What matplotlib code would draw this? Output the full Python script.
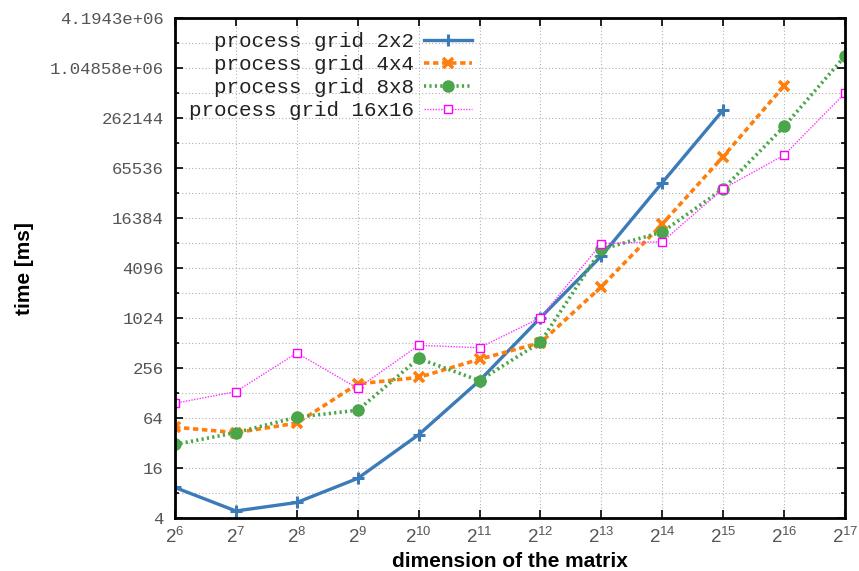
import numpy as np
import matplotlib.pyplot as plt
from matplotlib.ticker import FixedLocator, FuncFormatter, NullFormatter

plt.rcParams['mathtext.fontset'] = 'custom'
plt.rcParams['mathtext.rm'] = 'Liberation Sans'
plt.rcParams['mathtext.it'] = 'Liberation Sans'

# matrix dimension exponents (n = 2^k)
exps_2x2 = [6, 7, 8, 9, 10, 11, 12, 13, 14, 15]
exps_4x4 = [6, 7, 8, 9, 10, 11, 12, 13, 14, 15, 16]
exps_8x8 = [6, 7, 8, 9, 10, 11, 12, 13, 14, 15, 16, 17]
exps_16x16 = [6, 7, 8, 9, 10, 11, 12, 13, 14, 15, 16, 17]

# runtimes in ms
time_2x2 = [9.4, 4.9, 6.2, 12.1, 40.6, 182, 1040, 5760, 44000, 330000]
time_4x4 = [50, 43, 56, 166, 199, 329, 520, 2460, 14000, 90700, 645000]
time_8x8 = [31, 43, 66, 80, 336, 182, 530, 6930, 11200, 37100, 209000, 1470000]
time_16x16 = [97, 134, 391, 147, 484, 453, 1040, 8130, 8540, 37100, 94400, 527000]

fig = plt.figure(figsize=(8.59, 5.71), dpi=100)
ax = fig.add_axes([0.2037, 0.0923, 0.78, 0.8757])

mono = 'Liberation Mono'

ax.plot(2.0 ** np.array(exps_2x2), time_2x2, color='#3b7bb8', lw=2.4,
        marker='+', ms=9, mew=2.2, label='  process grid 2x2')
ax.plot(2.0 ** np.array(exps_4x4), time_4x4, color='#ff7f0e', lw=2.6,
        ls=(0, (1.5, 1)), marker='x', ms=7, mew=2.6, label='  process grid 4x4')
ax.plot(2.0 ** np.array(exps_8x8), time_8x8, color='#4aa64a', lw=2.6,
        ls=(0, (0.6, 0.9)), marker='o', ms=8, label='  process grid 8x8')
ax.plot(2.0 ** np.array(exps_16x16), time_16x16, color='#ff33ff', lw=1.0,
        ls=(0, (1, 1)), marker='s', ms=6, mfc='white', mec='#ff00ff', mew=1.0,
        label='process grid 16x16')

ax.set_xscale('log', base=2)
ax.set_yscale('log', base=2)
ax.set_xlim(2 ** 6, 2 ** 17)
ax.set_ylim(4, 2 ** 22)

xt = [2 ** k for k in range(6, 18)]
ax.xaxis.set_major_locator(FixedLocator(xt))
ax.xaxis.set_major_formatter(FuncFormatter(lambda v, p: r'$2^{%d}$' % round(np.log2(v))))
ax.xaxis.set_minor_locator(FixedLocator([]))

yt = [4.0 ** k for k in range(1, 12)]
ax.yaxis.set_major_locator(FixedLocator(yt))
ax.yaxis.set_major_formatter(FuncFormatter(lambda v, p: '%g' % v))
ax.yaxis.set_minor_locator(FixedLocator([2 * 4.0 ** k for k in range(1, 11)]))
ax.yaxis.set_minor_formatter(NullFormatter())

ax.grid(True, which='both', color='#b0b0b0', ls=(0, (1, 2)), lw=0.8)
ax.tick_params(which='both', direction='in', top=True, right=True, width=1.2)
ax.tick_params(which='major', length=6)
ax.tick_params(which='minor', length=3)
ax.tick_params(axis='y', labelsize=12.5, pad=8)
ax.tick_params(axis='x', labelsize=13.5, pad=6)
for lab in ax.get_yticklabels():
    lab.set_family(mono)
    lab.set_color('#555555')
for lab in ax.get_xticklabels():
    lab.set_color('#555555')
for s in ax.spines.values():
    s.set_linewidth(2)

ax.set_xlabel('dimension of the matrix', family='Liberation Sans', weight='bold', fontsize=15, labelpad=4)
ax.set_ylabel('time [ms]', family='Liberation Sans', weight='bold', fontsize=15, labelpad=11)

leg = ax.legend(loc='upper left', bbox_to_anchor=(0.0, 1.0), frameon=False,
                markerfirst=False, prop={'family': mono, 'size': 15},
                handlelength=2.3, labelspacing=0.2, handletextpad=0.5,
                borderaxespad=0.25)
for t in leg.get_texts():
    t.set_color('#222222')

fig.savefig('out.png', dpi=100)
